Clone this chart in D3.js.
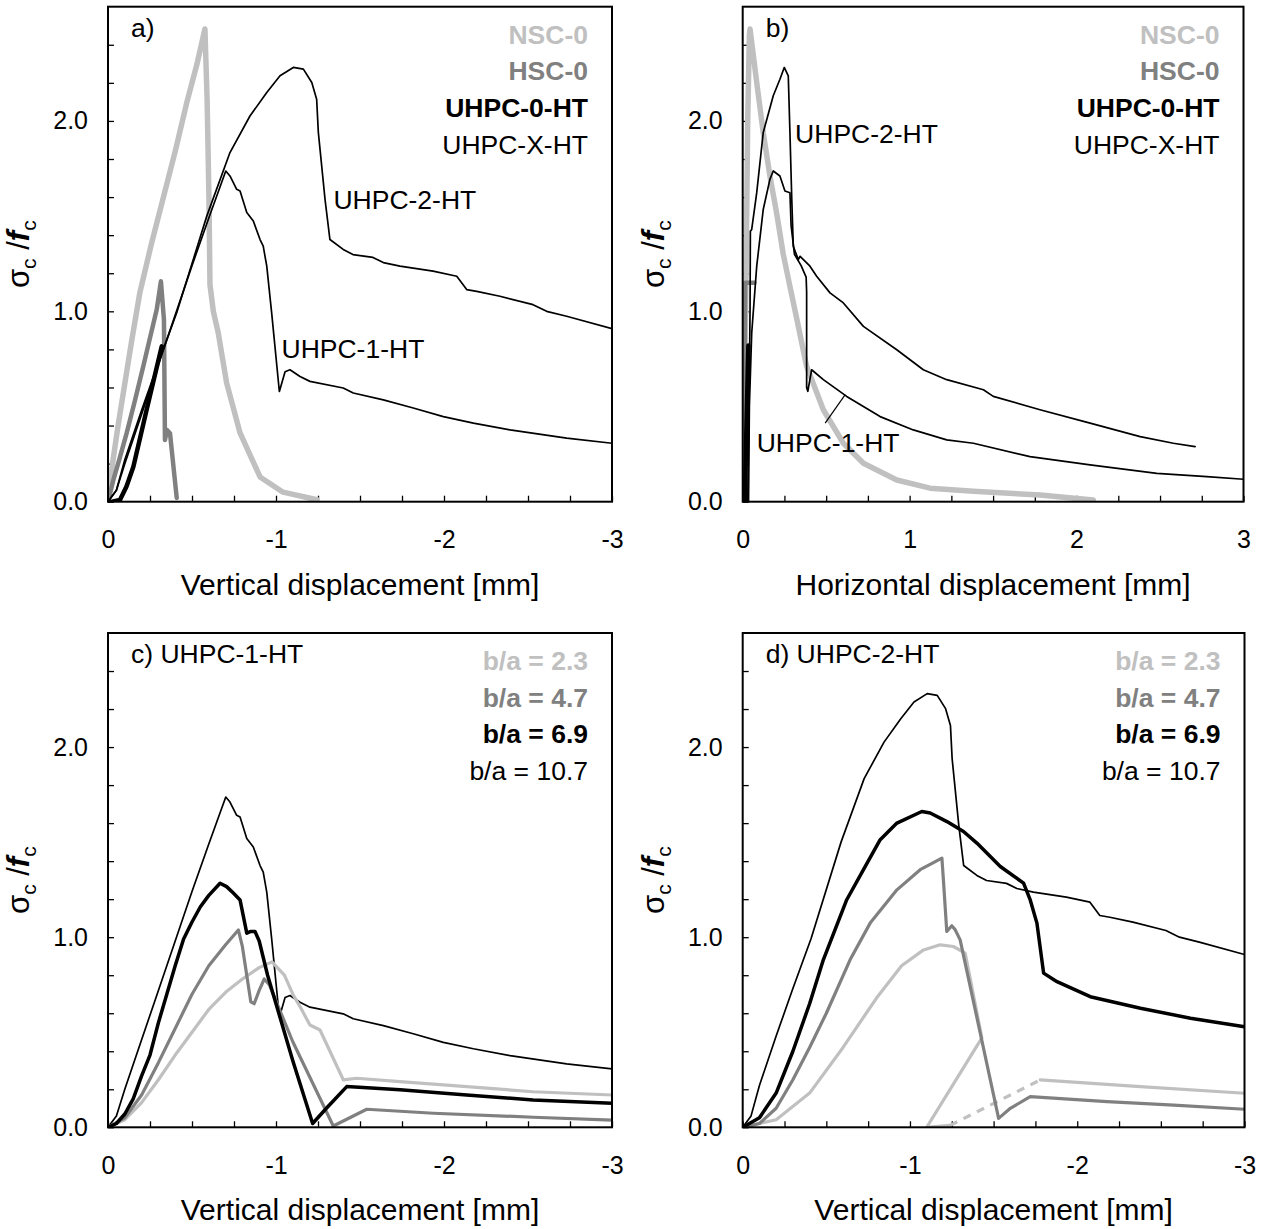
<!DOCTYPE html>
<html>
<head>
<meta charset="utf-8">
<script src="https://cdn.jsdelivr.net/npm/d3@7/dist/d3.min.js"></script>
<style>
body { margin:0; background:#fff; }
svg { font-family: "Liberation Sans", Arial, sans-serif; }
</style>
</head>
<body>
<div id="chart"></div>
<script>
// ---- data : [displacement, sigma_c/f_c] ----
// a) vertical displacement
var nscA = [[0,0],[-0.01,0.08],[-0.03,0.22],[-0.06,0.4],[-0.1,0.62],[-0.14,0.84],[-0.19,1.1],[-0.26,1.36],[-0.33,1.6],[-0.4,1.84],[-0.47,2.1],[-0.53,2.3],[-0.577,2.483],[-0.59,2.11],[-0.601,1.59],[-0.607,1.14],[-0.627,1.0],[-0.656,0.888],[-0.706,0.624],[-0.786,0.361],[-0.905,0.13],[-1.042,0.05],[-1.244,0.01]];
var hscA = [[0,0],[-0.032,0.114],[-0.07,0.23],[-0.111,0.36],[-0.16,0.53],[-0.21,0.711],[-0.29,1.009],[-0.315,1.158],[-0.333,0.956],[-0.339,0.324],[-0.351,0.377],[-0.369,0.36],[-0.409,0.02]];
var uhpc0A = [[-0.024,0],[-0.071,0.009],[-0.11,0.08],[-0.151,0.184],[-0.23,0.483],[-0.32,0.816]];
var uhpc2A = [[0,0],[-0.05,0.06],[-0.1,0.22],[-0.2,0.48],[-0.3,0.73],[-0.409,0.993],[-0.588,1.5],[-0.726,1.834],[-0.845,2.026],[-0.945,2.149],[-1.024,2.237],[-1.103,2.281],[-1.163,2.272],[-1.213,2.202],[-1.242,2.114],[-1.252,1.94],[-1.292,1.587],[-1.321,1.377],[-1.4,1.325],[-1.458,1.298],[-1.577,1.283],[-1.639,1.256],[-1.738,1.237],[-1.935,1.211],[-2.076,1.184],[-2.135,1.114],[-2.195,1.105],[-2.333,1.079],[-2.53,1.035],[-2.611,1.0],[-2.73,0.974],[-3.0,0.909]];
var uhpc1A = [[0,0],[-0.05,0.06],[-0.1,0.2],[-0.2,0.46],[-0.3,0.72],[-0.4,0.98],[-0.5,1.24],[-0.6,1.49],[-0.701,1.737],[-0.726,1.711],[-0.766,1.641],[-0.786,1.632],[-0.826,1.519],[-0.865,1.474],[-0.905,1.377],[-0.924,1.342],[-0.945,1.237],[-0.974,0.993],[-1.02,0.579],[-1.054,0.683],[-1.083,0.693],[-1.143,0.658],[-1.202,0.632],[-1.4,0.597],[-1.46,0.571],[-1.639,0.535],[-1.817,0.492],[-1.996,0.447],[-2.175,0.413],[-2.393,0.377],[-2.73,0.334],[-3.0,0.307]];

// b) horizontal displacement
var nscB = [[0,0],[0.01,0.5],[0.02,1.2],[0.03,2.0],[0.04,2.45],[0.044,2.483],[0.084,2.202],[0.123,1.939],[0.163,1.711],[0.203,1.518],[0.243,1.3],[0.283,1.13],[0.324,0.96],[0.383,0.711],[0.483,0.483],[0.603,0.307],[0.723,0.202],[0.923,0.114],[1.122,0.071],[1.382,0.055],[1.781,0.035],[2.1,0.009]];
var hscB = [[0.005,0],[0.01,0.6],[0.015,1.15],[0.07,1.15]];
var uhpc0B = [[0.013,0],[0.02,0.3],[0.028,0.6],[0.034,0.82]];
var uhpc2B = [[0.03,0],[0.038,0.5],[0.044,1.0],[0.046,1.42],[0.054,1.43],[0.084,1.623],[0.123,1.939],[0.183,2.132],[0.223,2.219],[0.249,2.281],[0.273,2.237],[0.283,1.939],[0.294,1.588],[0.303,1.342],[0.333,1.272],[0.344,1.289],[0.403,1.237],[0.443,1.184],[0.523,1.097],[0.603,1.044],[0.723,0.921],[0.923,0.798],[1.082,0.693],[1.222,0.641],[1.442,0.588],[1.501,0.553],[1.781,0.483],[2.081,0.413],[2.381,0.342],[2.58,0.307],[2.71,0.289]];
var uhpc1B = [[0.035,0],[0.04,0.5],[0.054,0.886],[0.084,1.237],[0.123,1.535],[0.163,1.693],[0.183,1.737],[0.223,1.711],[0.253,1.632],[0.283,1.623],[0.29,1.45],[0.31,1.3],[0.35,1.24],[0.38,1.18],[0.383,1.1],[0.383,0.6],[0.39,0.58],[0.413,0.693],[0.483,0.641],[0.623,0.553],[0.823,0.447],[1.022,0.377],[1.222,0.325],[1.382,0.307],[1.721,0.237],[2.081,0.193],[2.481,0.149],[2.78,0.132],[3.0,0.118]];

// c) UHPC-1-HT, b/a series
var ba23C = [[0,0],[-0.1,0.04],[-0.2,0.13],[-0.3,0.25],[-0.4,0.38],[-0.5,0.5],[-0.6,0.62],[-0.7,0.71],[-0.8,0.78],[-0.9,0.84],[-0.976,0.87],[-1.05,0.8],[-1.1,0.7],[-1.143,0.635],[-1.202,0.538],[-1.262,0.512],[-1.401,0.249],[-1.48,0.258],[-1.738,0.24],[-2.135,0.214],[-2.53,0.187],[-3.0,0.17]];
var ba47C = [[0,0],[-0.1,0.05],[-0.2,0.17],[-0.3,0.34],[-0.4,0.52],[-0.5,0.7],[-0.6,0.85],[-0.7,0.96],[-0.776,1.038],[-0.8,0.95],[-0.85,0.66],[-0.87,0.65],[-0.9,0.72],[-0.93,0.78],[-0.96,0.75],[-1.1,0.45],[-1.341,0.007],[-1.54,0.095],[-1.937,0.074],[-2.532,0.053],[-3.0,0.038]];
var ba69C = [[0,0],[-0.05,0.02],[-0.1,0.07],[-0.15,0.15],[-0.2,0.27],[-0.25,0.38],[-0.3,0.55],[-0.35,0.7],[-0.4,0.85],[-0.45,0.99],[-0.5,1.08],[-0.55,1.16],[-0.6,1.22],[-0.667,1.284],[-0.706,1.266],[-0.746,1.232],[-0.786,1.196],[-0.826,1.021],[-0.85,1.03],[-0.875,1.03],[-0.9,0.98],[-0.95,0.8],[-1.0,0.65],[-1.1,0.35],[-1.218,0.02],[-1.3,0.1],[-1.421,0.214],[-1.738,0.198],[-2.135,0.17],[-2.53,0.144],[-3.0,0.126]];
var ba107C = uhpc1A;

// d) UHPC-2-HT, b/a series
var ba23D = [[0,0],[-0.2,0.04],[-0.4,0.18],[-0.6,0.42],[-0.8,0.68],[-0.95,0.85],[-1.081,0.933],[-1.181,0.96],[-1.26,0.951],[-1.33,0.916],[-1.43,0.47],[-1.1,0.0],[-1.24,0.01]];
var ba23Dgap = [[-1.24,0.01],[-1.779,0.249]];
var ba23Dtail = [[-1.779,0.249],[-2.377,0.214],[-3.0,0.179]];
var ba47D = [[0,0],[-0.1,0.02],[-0.2,0.1],[-0.3,0.25],[-0.4,0.42],[-0.5,0.6],[-0.642,0.881],[-0.762,1.074],[-0.922,1.249],[-1.061,1.355],[-1.191,1.416],[-1.2,1.3],[-1.22,1.03],[-1.25,1.06],[-1.27,1.04],[-1.3,0.986],[-1.53,0.047],[-1.6,0.1],[-1.719,0.161],[-2.178,0.135],[-2.577,0.117],[-3.0,0.095]];
var ba69D = [[0,0],[-0.1,0.05],[-0.2,0.18],[-0.3,0.4],[-0.4,0.65],[-0.482,0.881],[-0.622,1.197],[-0.722,1.355],[-0.822,1.513],[-0.922,1.6],[-1.071,1.661],[-1.121,1.653],[-1.221,1.608],[-1.32,1.556],[-1.4,1.495],[-1.54,1.372],[-1.679,1.284],[-1.719,1.196],[-1.759,1.074],[-1.799,0.811],[-1.879,0.766],[-2.078,0.687],[-2.378,0.626],[-2.677,0.574],[-3.0,0.529]];
var ba107D = uhpc2A;

// ---- ticks / labels ----
var yTicks = d3.range(0, 13).map(function(i){ return i * 0.2; });
var xTicksNeg = d3.range(0, 13).map(function(i){ return -i * 0.25; });
var xTicksPos = d3.range(0, 13).map(function(i){ return i * 0.25; });
var legendAB = ["NSC-0", "HSC-0", "UHPC-0-HT", "UHPC-X-HT"];
var legendCD = ["b/a = 2.3", "b/a = 4.7", "b/a = 6.9", "b/a = 10.7"];

var LIGHT = "#c0c0c0", MID = "#808080", BLACK = "#000";
var legendStyle = [[LIGHT, "bold"], [MID, "bold"], [BLACK, "bold"], [BLACK, "normal"]];

var svg = d3.select("#chart").append("svg").attr("width", 1263).attr("height", 1229);

function isInt(v){ return Math.abs(v - Math.round(v)) < 1e-6; }

function drawPanel(p){
  var x = d3.scaleLinear().domain(p.xDomain).range([p.left, p.right]);
  var y = d3.scaleLinear().domain([0, 2.6]).range([p.bottom, p.top]);
  var g = svg.append("g");

  g.append("clipPath").attr("id", "clip" + p.id)
    .append("rect").attr("x", p.left).attr("y", p.top)
    .attr("width", p.right - p.left).attr("height", p.bottom - p.top);

  // x axis
  var xa = g.append("g").attr("transform", "translate(0," + p.bottom + ")")
    .call(d3.axisBottom(x).tickValues(p.xTicks).tickSize(-6).tickPadding(29)
      .tickFormat(function(d){ return isInt(d) ? String(Math.round(d)) : ""; }));
  // y axis
  var ya = g.append("g").attr("transform", "translate(" + p.left + ",0)")
    .call(d3.axisLeft(y).tickValues(yTicks).tickSize(-6).tickPadding(20)
      .tickFormat(function(d){ return isInt(d) ? d3.format(".1f")(d) : ""; }));
  [xa, ya].forEach(function(a){
    a.select(".domain").remove();
    a.selectAll("line").attr("stroke", "#000").attr("stroke-width", 1.3);
    a.selectAll("text").attr("fill", "#000").style("font-size", "25px")
      .style("font-family", "Liberation Sans, Arial, sans-serif");
  });

  // curves
  var line = d3.line().x(function(d){ return x(d[0]); }).y(function(d){ return y(d[1]); });
  var cg = g.append("g").attr("clip-path", "url(#clip" + p.id + ")");
  p.series.forEach(function(s){
    cg.append("path").datum(s.data)
      .attr("d", line)
      .attr("fill", "none")
      .attr("stroke", s.color)
      .attr("stroke-width", s.width)
      .attr("stroke-dasharray", s.dash || null)
      .attr("stroke-linejoin", "round")
      .attr("stroke-linecap", s.dash ? "butt" : "round");
  });

  // frame
  g.append("rect").attr("x", p.left).attr("y", p.top)
    .attr("width", p.right - p.left).attr("height", p.bottom - p.top)
    .attr("fill", "none").attr("stroke", "#000").attr("stroke-width", 2);

  // axis titles
  g.append("text").attr("x", (p.left + p.right) / 2).attr("y", p.bottom + 93)
    .attr("text-anchor", "middle").style("font-size", "30px").text(p.xTitle);

  var yl = g.append("text")
    .attr("transform", "translate(" + (p.left - 79) + "," + ((p.top + p.bottom) / 2) + ") rotate(-90)")
    .attr("text-anchor", "middle").style("font-size", "31px");
  yl.append("tspan").text("\u03c3");
  yl.append("tspan").attr("dy", 7).style("font-size", "21px").text("c");
  yl.append("tspan").attr("dy", -7).text(" /");
  yl.append("tspan").style("font-style", "italic").style("font-weight", "bold").text("f");
  yl.append("tspan").attr("dy", 7).style("font-size", "21px").text("c");

  // panel tag
  g.append("text").attr("x", p.left + 23).attr("y", p.top + 30)
    .style("font-size", "26.5px").text(p.tag);

  // legend
  p.legend.forEach(function(t, i){
    g.append("text").attr("x", p.right - 24).attr("y", p.top + 37 + i * 36.7)
      .attr("text-anchor", "end").style("font-size", "26.5px")
      .attr("fill", legendStyle[i][0]).style("font-weight", legendStyle[i][1])
      .text(t);
  });

  // annotations placed in data units
  (p.notes || []).forEach(function(n){
    g.append("text").attr("x", x(n[1])).attr("y", y(n[2]))
      .style("font-size", "26.5px").text(n[0]);
  });
  (p.leaders || []).forEach(function(l){
    g.append("line").attr("x1", x(l[0])).attr("y1", y(l[1]))
      .attr("x2", x(l[2])).attr("y2", y(l[3]))
      .attr("stroke", "#000").attr("stroke-width", 1.2);
  });
}

var panels = [
  { id: "a", left: 108, right: 612, top: 6.7, bottom: 501.7, xDomain: [0, -3], xTicks: xTicksNeg,
    xTitle: "Vertical displacement [mm]", tag: "a)", legend: legendAB,
    notes: [["UHPC-2-HT", -1.342, 1.535], ["UHPC-1-HT", -1.033, 0.755]],
    series: [
      { data: nscA, color: LIGHT, width: 5.5 },
      { data: hscA, color: MID, width: 4.5 },
      { data: uhpc2A, color: BLACK, width: 1.7 },
      { data: uhpc1A, color: BLACK, width: 1.7 },
      { data: uhpc0A, color: BLACK, width: 4.5 }
    ] },
  { id: "b", left: 742.7, right: 1243.5, top: 6.7, bottom: 501.7, xDomain: [0, 3], xTicks: xTicksPos,
    xTitle: "Horizontal displacement [mm]", tag: "b)", legend: legendAB,
    notes: [["UHPC-2-HT", 0.314, 1.886], ["UHPC-1-HT", 0.084, 0.263]],
    leaders: [[0.494, 0.413, 0.614, 0.562]],
    series: [
      { data: nscB, color: LIGHT, width: 5.5 },
      { data: hscB, color: MID, width: 4.5 },
      { data: uhpc2B, color: BLACK, width: 1.7 },
      { data: uhpc1B, color: BLACK, width: 1.7 },
      { data: uhpc0B, color: BLACK, width: 4.5 }
    ] },
  { id: "c", left: 108, right: 612, top: 633, bottom: 1127.3, xDomain: [0, -3], xTicks: xTicksNeg,
    xTitle: "Vertical displacement [mm]", tag: "c) UHPC-1-HT", legend: legendCD,
    series: [
      { data: ba107C, color: BLACK, width: 1.7 },
      { data: ba23C, color: LIGHT, width: 3.2 },
      { data: ba47C, color: MID, width: 3.2 },
      { data: ba69C, color: BLACK, width: 3.5 }
    ] },
  { id: "d", left: 742.7, right: 1244.5, top: 633, bottom: 1127.3, xDomain: [0, -3], xTicks: xTicksNeg,
    xTitle: "Vertical displacement [mm]", tag: "d) UHPC-2-HT", legend: legendCD,
    series: [
      { data: ba107D, color: BLACK, width: 1.7 },
      { data: ba23D, color: LIGHT, width: 3.2 },
      { data: ba23Dgap, color: LIGHT, width: 3.2, dash: "8,7" },
      { data: ba23Dtail, color: LIGHT, width: 3.2 },
      { data: ba47D, color: MID, width: 3.2 },
      { data: ba69D, color: BLACK, width: 3.5 }
    ] }
];

panels.forEach(drawPanel);
</script>
</body>
</html>
